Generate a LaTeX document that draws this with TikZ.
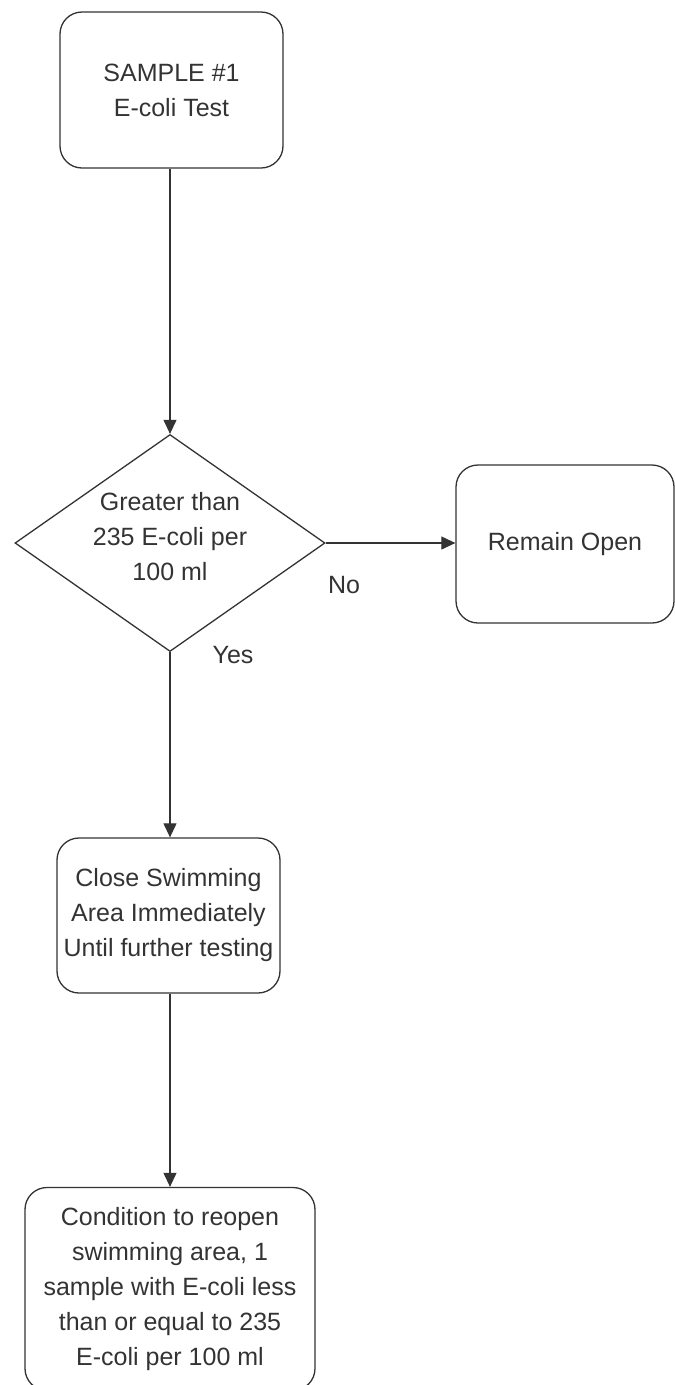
\documentclass[tikz,border=0pt]{standalone}
\usepackage{fontspec}
\setmainfont{Liberation Sans}
\usetikzlibrary{shapes.geometric,arrows.meta}
\definecolor{ink}{HTML}{333333}
\begin{document}
\begin{tikzpicture}[x=1pt,y=1pt,
  every node/.style={text=ink,font=\fontsize{25}{35}\selectfont},
  box/.style={draw=ink,line width=1.3pt,rounded corners=22pt,align=center,inner sep=0pt},
  dia/.style={draw=ink,line width=1.3pt,diamond,inner sep=0pt},
  conn/.style={draw=ink,line width=1.1pt,-{Triangle[length=14pt,width=13pt]}},
  lbl/.style={inner sep=0pt}]
\useasboundingbox (0,0) rectangle (675,-1385);
\begin{scope}
\clip (0,0) rectangle (675,-1385);
\node[box,minimum width=223pt,minimum height=156pt] (s1) at (171.5,-90) {SAMPLE \#1\\E-coli Test};
\node[dia,minimum width=310pt,minimum height=217pt] (d) at (170,-543) {};
\node[lbl,align=center] (dt) at (170,-537) {Greater than\\235 E-coli per\\100 ml};
\node[box,minimum width=218pt,minimum height=158pt] (ro) at (565,-544) {Remain Open};
\node[box,minimum width=223pt,minimum height=155pt] (c) at (168.5,-915.5) {Close Swimming\\Area Immediately\\Until further testing};
\node[box,minimum width=290pt,minimum height=203pt] (r) at (170,-1289) {Condition to reopen\\swimming area, 1\\sample with E-coli less\\than or equal to 235\\E-coli per 100 ml};
\end{scope}
\draw[conn] (s1.south -| d.north) -- (d.north);
\draw[conn] (d.east) -- (ro.west |- d.east);
\draw[conn] (d.south) -- (c.north -| d.south);
\draw[conn] (c.south -| r.north) -- (r.north);
\node[lbl] (no) at (344,-585) {No};
\node[lbl] (yes) at (233,-655) {Yes};
\end{tikzpicture}
\end{document}
